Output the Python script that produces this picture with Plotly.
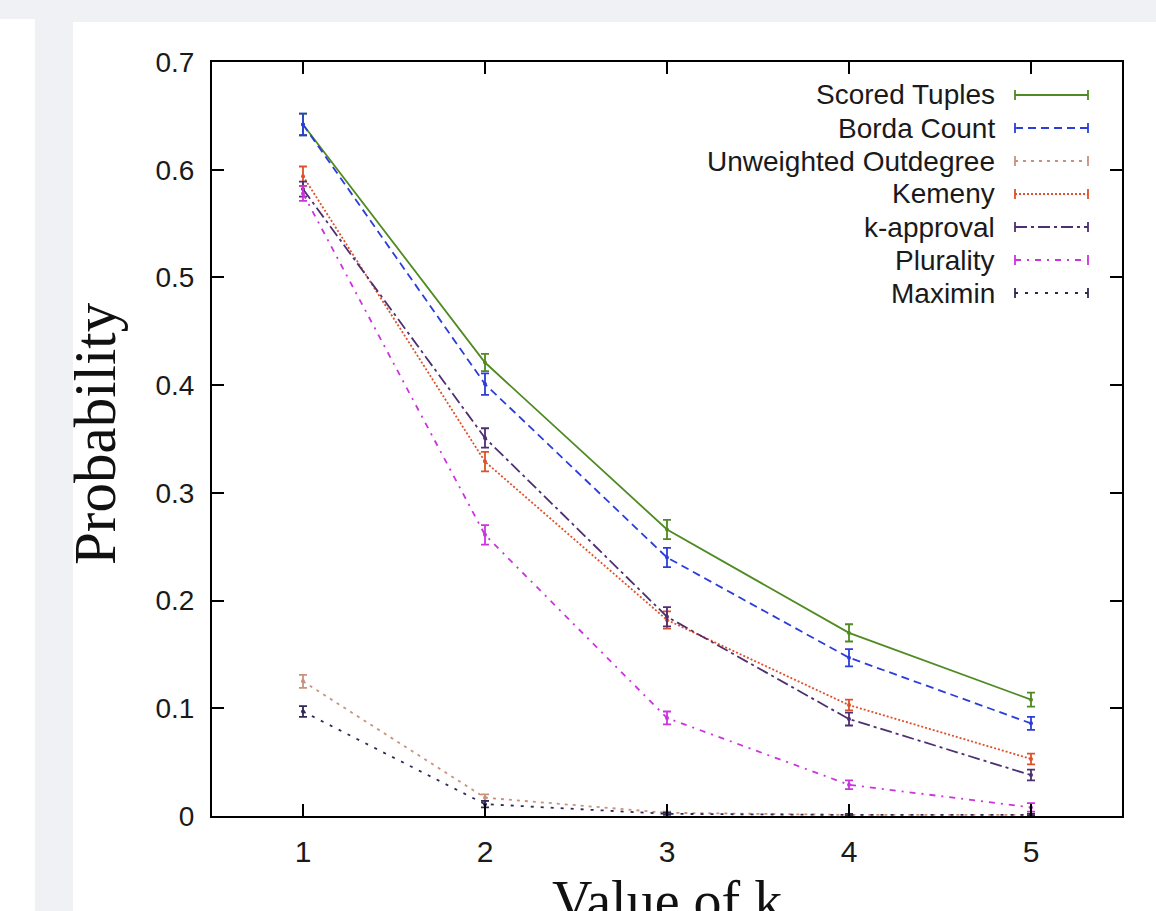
import plotly.graph_objects as go

k_values = [1, 2, 3, 4, 5]
x_tick_labels = ["1", "2", "3", "4", "5"]
y_tick_values = [0, 0.1, 0.2, 0.3, 0.4, 0.5, 0.6, 0.7]
y_tick_labels = ["0", "0.1", "0.2", "0.3", "0.4", "0.5", "0.6", "0.7"]

series_names = ["Scored Tuples", "Borda Count", "Unweighted Outdegree", "Kemeny",
                "k-approval", "Plurality", "Maximin"]

scored_tuples = [0.642, 0.421, 0.266, 0.170, 0.108]
scored_tuples_err = [0.010, 0.008, 0.009, 0.008, 0.0065]
borda_count = [0.642, 0.401, 0.240, 0.147, 0.086]
borda_count_err = [0.010, 0.010, 0.009, 0.008, 0.006]
unweighted_outdegree = [0.125, 0.017, 0.003, 0.001, 0.001]
unweighted_outdegree_err = [0.006, 0.003, 0.001, 0.001, 0.001]
kemeny = [0.594, 0.329, 0.182, 0.103, 0.053]
kemeny_err = [0.009, 0.009, 0.008, 0.005, 0.005]
k_approval = [0.582, 0.351, 0.185, 0.090, 0.038]
k_approval_err = [0.007, 0.009, 0.009, 0.006, 0.005]
plurality = [0.578, 0.261, 0.091, 0.029, 0.008]
plurality_err = [0.007, 0.009, 0.006, 0.004, 0.004]
maximin = [0.097, 0.011, 0.002, 0.001, 0.001]
maximin_err = [0.005, 0.003, 0.001, 0.001, 0.001]

values = [scored_tuples, borda_count, unweighted_outdegree, kemeny, k_approval, plurality, maximin]
errors = [scored_tuples_err, borda_count_err, unweighted_outdegree_err, kemeny_err,
          k_approval_err, plurality_err, maximin_err]

colors = ["#4f8a22", "#2b3ed8", "#c8927f", "#e0502a", "#4e2f72", "#cc33dd", "#2e2a55"]
dashes = ["solid", "8px,5px", "3px,5px", "2px,2px", "12px,4px,3px,4px",
          "6px,6px,2px,6px", "3px,7px"]

W, H = 1156, 911
L, R, T, B = 212, 34, 62, 95
PW, PH = W - L - R, H - T - B


def px_x(p):
    return (p - L) / PW


def px_y(p):
    return (H - B - p) / PH


fig = go.Figure()
for name, vals, errs, col, dash in zip(series_names, values, errors, colors, dashes):
    fig.add_trace(go.Scatter(
        x=k_values, y=vals, name=name, mode="lines+markers",
        line=dict(color=col, width=1.8, dash=dash),
        marker=dict(color=col, size=4),
        error_y=dict(type="data", array=errs, visible=True, color=col,
                     thickness=1.8, width=4),
        showlegend=False,
    ))

shapes = [
    # white panels on the gray page
    dict(type="rect", xref="paper", yref="paper", x0=px_x(73), x1=px_x(W + 5),
         y0=px_y(H + 5), y1=px_y(22), fillcolor="white", line=dict(width=0), layer="below"),
    dict(type="rect", xref="paper", yref="paper", x0=px_x(-5), x1=px_x(35),
         y0=px_y(H + 5), y1=px_y(19), fillcolor="white", line=dict(width=0), layer="below"),
]

annotations = []
# custom legend: right-aligned text with line sample on the right
row0, row_step = 95, 33
sx0, sx1, text_right = 1015, 1088, 997
for i, (name, col, dash) in enumerate(zip(series_names, colors, dashes)):
    ry = row0 + i * row_step
    annotations.append(dict(
        x=px_x(text_right), y=px_y(ry), xref="paper", yref="paper", text=name,
        showarrow=False, xanchor="right", yanchor="middle",
        font=dict(family="Liberation Sans, Arial, sans-serif", size=28, color="#1a1a1a"),
    ))
    shapes.append(dict(type="line", xref="paper", yref="paper", x0=px_x(sx0), x1=px_x(sx1),
                       y0=px_y(ry), y1=px_y(ry), line=dict(color=col, width=1.8, dash=dash)))
    for ex in (sx0, sx1):
        shapes.append(dict(type="line", xref="paper", yref="paper", x0=px_x(ex), x1=px_x(ex),
                           y0=px_y(ry - 5), y1=px_y(ry + 5), line=dict(color=col, width=1.8)))

# axis titles (serif, large)
annotations.append(dict(
    x=px_x(95), y=px_y(434), xref="paper", yref="paper", text="Probability", textangle=-90,
    showarrow=False, xanchor="center", yanchor="middle",
    font=dict(family="Liberation Serif, Times New Roman, serif", size=59, color="#111111"),
))
annotations.append(dict(
    x=0.5, y=px_y(868), xref="paper", yref="paper", text="Value of k",
    showarrow=False, xanchor="center", yanchor="top",
    font=dict(family="Liberation Serif, Times New Roman, serif", size=56, color="#111111"),
))

axis_common = dict(showline=True, linecolor="black", linewidth=2, mirror="ticks",
                   ticks="inside", ticklen=12, tickwidth=2, tickcolor="black",
                   showgrid=False, zeroline=False)

fig.update_layout(
    width=W, height=H,
    margin=dict(l=L, r=R, t=T, b=B, autoexpand=False),
    paper_bgcolor="#eff1f5", plot_bgcolor="white",
    xaxis=dict(range=[0.5, 5.5], tickvals=k_values, ticktext=x_tick_labels,
               ticklabelstandoff=8,
               tickfont=dict(family="Liberation Sans, Arial, sans-serif", size=30,
                             color="#1a1a1a"),
               **axis_common),
    yaxis=dict(range=[0, 0.7], tickvals=y_tick_values, ticktext=y_tick_labels,
               ticklabelstandoff=10,
               tickfont=dict(family="Liberation Sans, Arial, sans-serif", size=28,
                             color="#1a1a1a"),
               **axis_common),
    shapes=shapes, annotations=annotations,
)

fig.write_html("out.html", config={"displayModeBar": False},
               post_script="document.body.style.margin='0';document.body.style.overflow='hidden';")
